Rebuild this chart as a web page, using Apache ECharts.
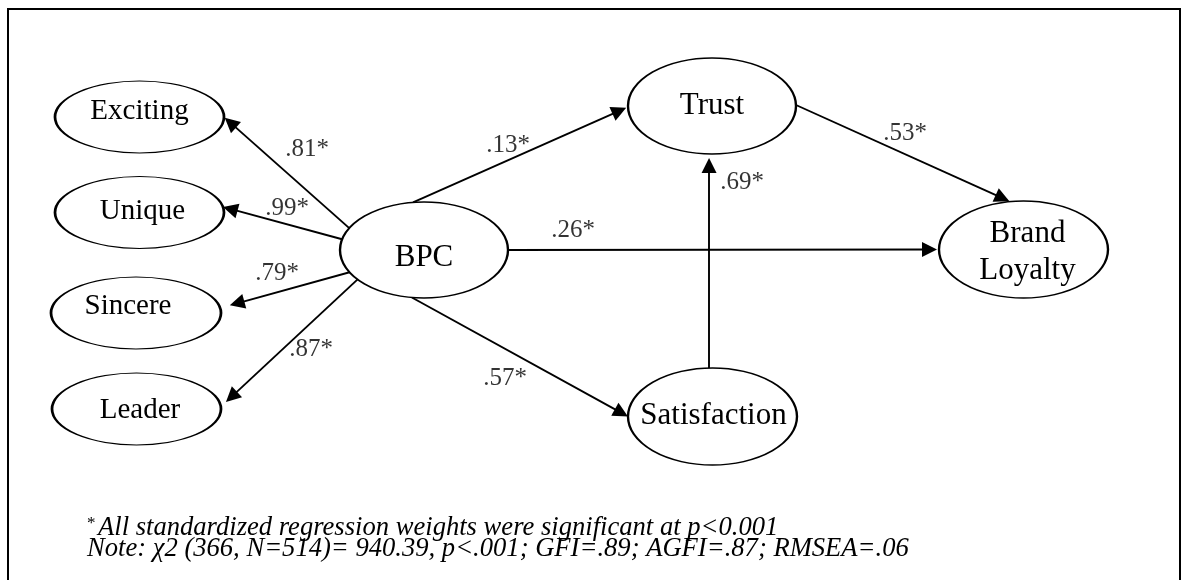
<!DOCTYPE html>
<html>
<head>
<meta charset="utf-8">
<script src="https://cdn.jsdelivr.net/npm/echarts/dist/echarts.min.js"></script>
<style>
html,body{margin:0;padding:0;background:#fff;}
#c{width:1185px;height:580px;}
</style>
</head>
<body>
<div id="c"></div>
<script>
// ---------------- data ----------------
const nodes = ['Exciting', 'Unique', 'Sincere', 'Leader', 'BPC', 'Trust', 'Satisfaction', 'BrandLoyalty'];
const nodeLabels = ['Exciting', 'Unique', 'Sincere', 'Leader', 'BPC', 'Trust', 'Satisfaction', 'Brand\nLoyalty'];
const edgeFrom = ['BPC', 'BPC', 'BPC', 'BPC', 'BPC', 'BPC', 'BPC', 'Satisfaction', 'Trust'];
const edgeTo = ['Exciting', 'Unique', 'Sincere', 'Leader', 'Trust', 'BrandLoyalty', 'Satisfaction', 'Trust', 'BrandLoyalty'];
const edgeWeights = [0.81, 0.99, 0.79, 0.87, 0.13, 0.26, 0.57, 0.69, 0.53];
const noteFootnote = 'All standardized regression weights were significant at p<0.001';
const noteFit = 'Note: \u03c72 (366, N=514)= 940.39, p<.001; GFI=.89; AGFI=.87; RMSEA=.06';

// ---------------- layout (diagram units) ----------------
const nodeLayout = {
  Exciting:     {x: 139.5,  y: 117,   rx: 84.5, ry: 36,   fs: 29, ldx: 0,   ldy: -5.5},
  Unique:       {x: 139.5,  y: 212.5, rx: 84.5, ry: 36,   fs: 29, ldx: 3,   ldy: -1},
  Sincere:      {x: 136,    y: 313,   rx: 85,   ry: 36,   fs: 29, ldx: -8,  ldy: -6.5},
  Leader:       {x: 136.5,  y: 409,   rx: 84.5, ry: 36,   fs: 29, ldx: 3.5, ldy: 1},
  BPC:          {x: 424,    y: 250,   rx: 84,   ry: 48,   fs: 31, ldx: 0,   ldy: 7.5},
  Trust:        {x: 712,    y: 106,   rx: 84,   ry: 48,   fs: 31, ldx: 0,   ldy: 0},
  Satisfaction: {x: 712.5,  y: 416.5, rx: 84.5, ry: 48.5, fs: 31, ldx: 1,   ldy: -0.5},
  BrandLoyalty: {x: 1023.5, y: 249.5, rx: 84.5, ry: 48.5, fs: 31, ldx: 4,   ldy: 2.5}
};
// per edge: [source port angle, target port angle (deg, parametric on ellipse), gap before target, label x, label y]
const edgeLayout = [
  [-152.85, 0,     1,  307, 149],
  [-167.1,  -8.8,  0,  287, 208],
  [152.4,   -8,    10, 277, 273],
  [142.2,   -3.5,  7,  311, 349],
  [-97.5,   178.8, 2,  508, 145],
  [0,       180,   2,  573, 230],
  [98.3,    180,   0,  505, 378],
  [-92.4,   92,    4,  742, 182],
  [-1.2,    -99,   1,  905, 133]
];
const ARROW = 15;
const SERIF = '"Liberation Serif", "Times New Roman", serif';

function port(name, deg) {
  const n = nodeLayout[name];
  const a = deg * Math.PI / 180;
  return [n.x + n.rx * Math.cos(a), n.y + n.ry * Math.sin(a)];
}
function fmt(w) { return w.toFixed(2).replace(/^0/, '') + '*'; }

const lineData = edgeFrom.map(function (s, i) {
  const sa = edgeLayout[i][0], ta = edgeLayout[i][1], gap = edgeLayout[i][2];
  const p0 = port(s, sa), p1 = port(edgeTo[i], ta);
  const dx = p1[0] - p0[0], dy = p1[1] - p0[1], L = Math.hypot(dx, dy);
  const ux = dx / L, uy = dy / L;
  const tip = [p1[0] - ux * gap, p1[1] - uy * gap];
  const end = [tip[0] - ux * ARROW / 2, tip[1] - uy * ARROW / 2];
  return {coords: [p0, end]};
});

const nodeData = nodes.map(function (k, i) {
  const n = nodeLayout[k];
  return {
    name: nodeLabels[i],
    value: [n.x, n.y],
    symbolSize: [2 * n.rx, 2 * n.ry],
    label: {offset: [n.ldx, n.ldy], fontSize: n.fs}
  };
});

const labelData = edgeWeights.map(function (w, i) {
  return {name: fmt(w), value: [edgeLayout[i][3], edgeLayout[i][4]]};
});

const chart = echarts.init(document.getElementById('c'));
chart.setOption({
  animation: false,
  backgroundColor: '#fff',
  grid: {left: 0, right: 0, top: 0, bottom: 0},
  xAxis: {type: 'value', min: 0, max: 1185, show: false},
  yAxis: {type: 'value', min: 0, max: 580, inverse: true, show: false},
  graphic: [
    {type: 'rect', silent: true, z: 0,
     shape: {x: 8, y: 9, width: 1172, height: 640},
     style: {fill: 'none', stroke: '#000', lineWidth: 2}},
    {type: 'text', silent: true, x: 87, y: 524,
     style: {text: '*', fontFamily: SERIF, fontSize: 17, fill: '#000', align: 'left', verticalAlign: 'middle'}},
    {type: 'text', silent: true, x: 98, y: 528,
     style: {text: noteFootnote, fontFamily: SERIF, fontStyle: 'italic', fontSize: 26.6, fill: '#000', align: 'left', verticalAlign: 'middle'}},
    {type: 'text', silent: true, x: 87, y: 549,
     style: {text: noteFit, fontFamily: SERIF, fontStyle: 'italic', fontSize: 26.6, fill: '#000', align: 'left', verticalAlign: 'middle'}}
  ],
  series: [
    {
      type: 'lines',
      coordinateSystem: 'cartesian2d',
      silent: true,
      z: 2,
      symbol: ['none', 'triangle'],
      symbolSize: ARROW,
      lineStyle: {color: '#000', width: 1.9, opacity: 1},
      data: lineData
    },
    {
      type: 'scatter',
      silent: true,
      z: 3,
      symbol: 'circle',
      itemStyle: {color: '#fff', borderColor: '#000', borderWidth: 1.8, opacity: 1},
      label: {show: true, position: 'inside', formatter: '{b}', color: '#000', fontFamily: SERIF, lineHeight: 37},
      data: nodeData
    },
    {
      type: 'scatter',
      silent: true,
      z: 4,
      symbolSize: 1,
      itemStyle: {color: 'rgba(0,0,0,0)'},
      label: {show: true, position: 'inside', formatter: '{b}', color: '#000', fontFamily: SERIF, fontSize: 25},
      data: labelData
    }
  ]
});
</script>
</body>
</html>
